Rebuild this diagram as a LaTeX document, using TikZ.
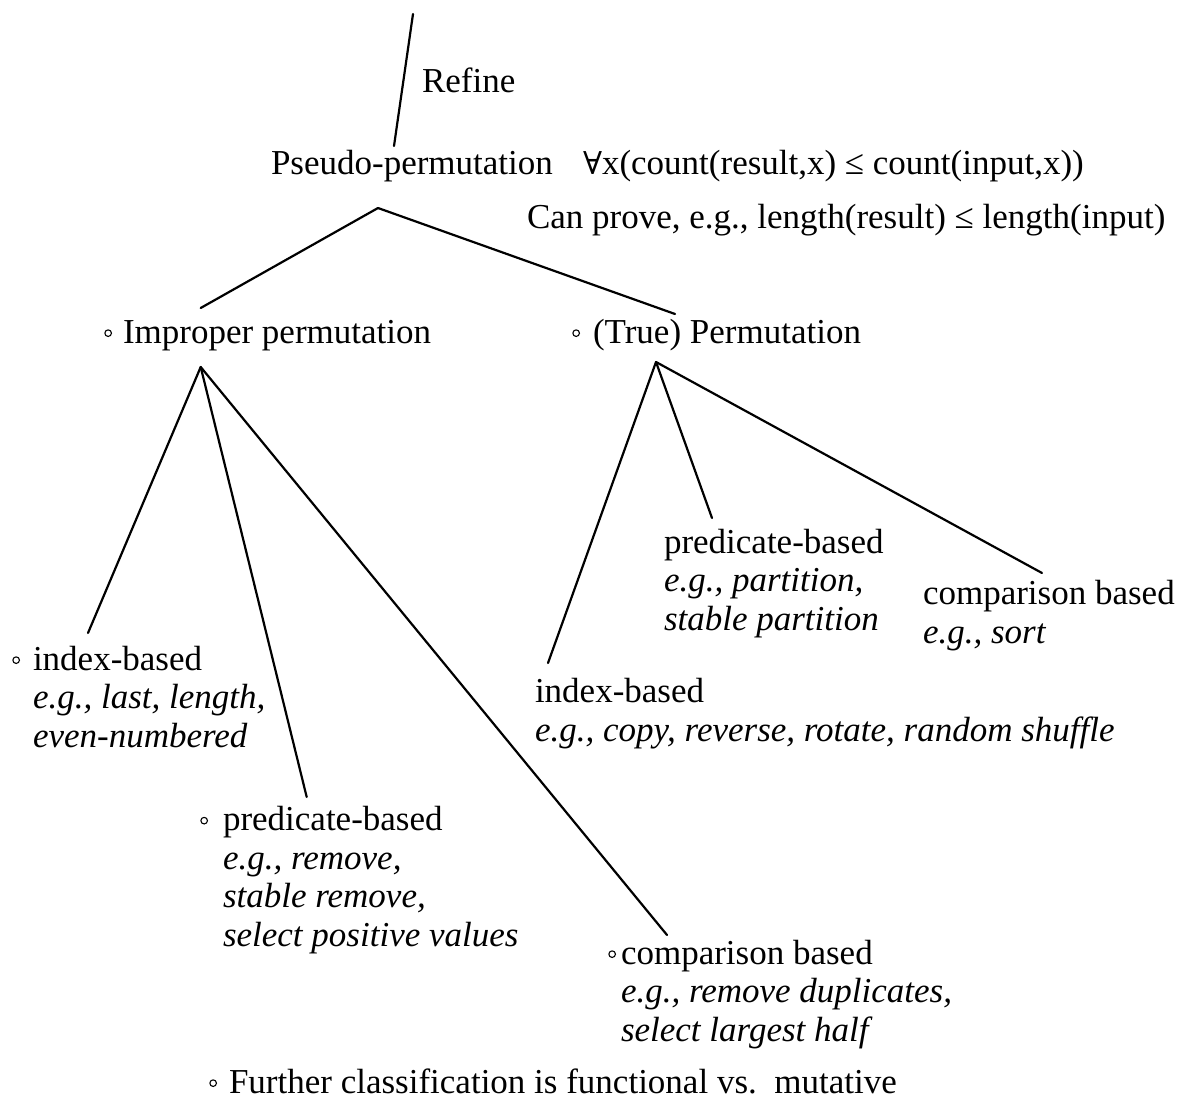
\documentclass[tikz,border=0pt]{standalone}
\usepackage{fontspec}
\setmainfont{Liberation Serif}
\newfontfamily\symfont[Scale=0.9]{DejaVu Serif}
\newcommand\bul[1][12]{\llap{\raisebox{6pt}{\tikz\draw[line width=1.1pt] (0,0) circle (3.3pt);}\hspace{#1pt}}}
\begin{document}
\begin{tikzpicture}[x=1pt,y=-1pt,
  lbl/.style={anchor=base west, inner sep=0pt, outer sep=0pt,
    font=\fontsize{35}{38.5}\selectfont, align=left},
  conn/.style={line width=2.2pt, line cap=round}]
\useasboundingbox[fill=white] (0,0) rectangle (1183,1107);

% texts (multi-line nodes are placed at the baseline of their last line)
\node[lbl] (refine) at (422,93) {Refine};
\node[lbl] (pseudo) at (271,175) {Pseudo-permutation};
\node[lbl] (forall) at (583,175) {{\symfont ∀}x(count(result,x) ≤ count(input,x))};
\node[lbl] (prove) at (527,229) {Can prove, e.g., length(result) ≤ length(input)};

\node[lbl] (improper) at (123,343) {\bul[11]Improper permutation};
\node[lbl] (truep) at (593,343) {\bul[13](True) Permutation};

\node[lbl] (iidx) at (33,747) {\bul[13]index-based\\\textit{e.g., last, length,}\\\textit{even-numbered}};
\node[lbl] (ipred) at (223,946) {\bul[15]predicate-based\\\textit{e.g., remove,}\\\textit{stable remove,}\\\textit{select positive values}};
\node[lbl] (icmp) at (621,1041) {\bul[5]comparison based\\\textit{e.g., remove duplicates,}\\\textit{select largest half}};

\node[lbl] (tpred) at (664,630) {predicate-based\\\textit{e.g., partition,}\\\textit{stable partition}};
\node[lbl] (tcmp) at (923,643) {comparison based\\\textit{e.g., sort}};
\node[lbl] (tidx) at (535,741) {index-based\\\textit{e.g., copy, reverse, rotate, random shuffle}};

\node[lbl] (further) at (229,1093) {\bul Further classification is functional vs.\ \ mutative};

% connector end points
\coordinate (reftop) at (413,14);
\coordinate (pstop) at (394,146);
\coordinate (psbot) at (378,208);
\coordinate (imptop) at (200.7,308);
\coordinate (trtop) at (675,314);
\coordinate (impbot) at (200.7,367);
\coordinate (iidxtop) at (88,633);
\coordinate (ipredtop) at (306.7,797);
\coordinate (icmptop) at (667,935);
\coordinate (trbot) at (656,362);
\coordinate (tidxtop) at (548,663);
\coordinate (tpredtop) at (712,518);
\coordinate (tcmptop) at (1042,573);

% connectors
\draw[conn] (reftop) -- (pstop);
\draw[conn] (psbot) -- (imptop);
\draw[conn] (psbot) -- (trtop);
\draw[conn] (impbot) -- (iidxtop);
\draw[conn] (impbot) -- (ipredtop);
\draw[conn] (impbot) -- (icmptop);
\draw[conn] (trbot) -- (tidxtop);
\draw[conn] (trbot) -- (tpredtop);
\draw[conn] (trbot) -- (tcmptop);
\end{tikzpicture}
\end{document}
